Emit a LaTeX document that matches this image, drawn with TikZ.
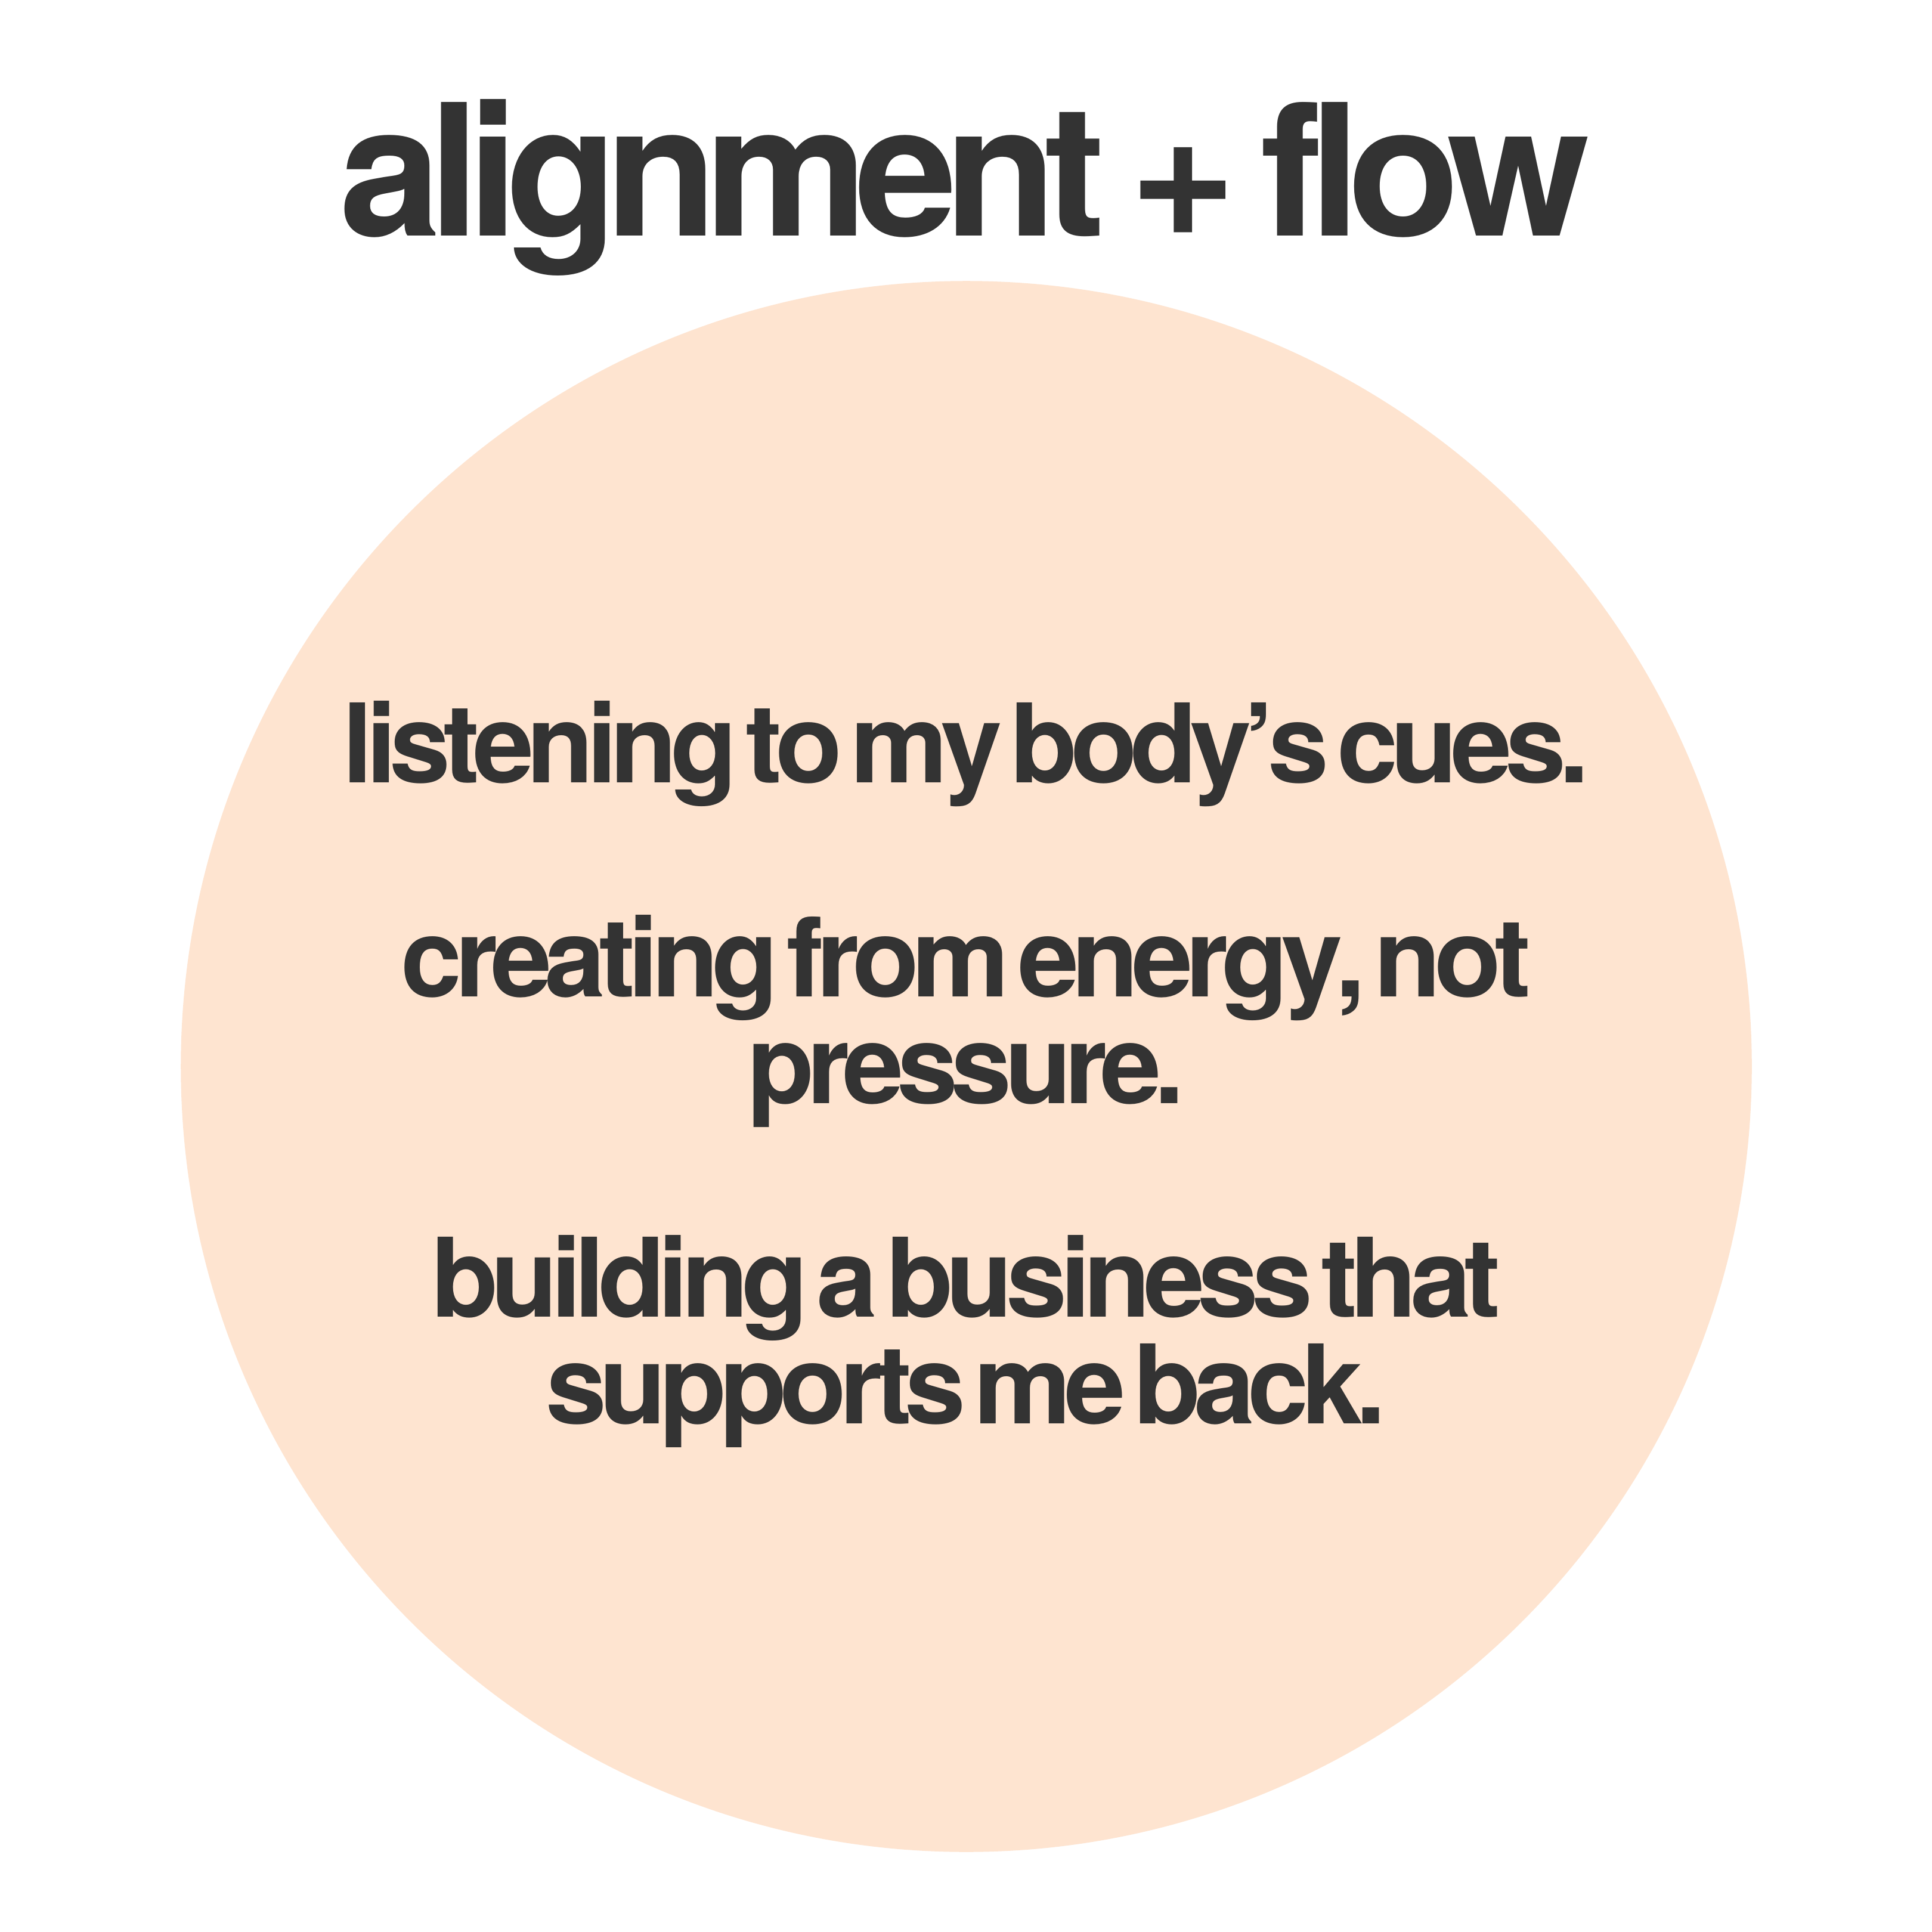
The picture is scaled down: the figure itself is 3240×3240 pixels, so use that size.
\documentclass[tikz,border=0pt]{standalone}
\usepackage{fontspec}
\setmainfont{TeX Gyre Heros}
\newfontfamily\heavyfont{TeX Gyre Heros}
\definecolor{ink}{HTML}{333333}
\definecolor{peach}{HTML}{FEE4D0}
\ExplSyntaxOn
\cs_new_protected:Npn \my_track_word:nn #1#2
  { \tl_map_inline:nn {#2} { ##1 \kern #1 \relax } }
\NewDocumentCommand \tracked { m m m }
  {
    \seq_set_split:Nnn \l_tmpa_seq { ~ } {#3}
    \seq_map_indexed_inline:Nn \l_tmpa_seq
      {
        \int_compare:nNnF {##1} = {1} { \hspace*{#2} }
        \my_track_word:nn {#1} {##2}
      }
    \kern -#1 \relax
  }
\ExplSyntaxOff
\newcommand\titleline[1]{\tracked{-0.068em}{0.20em}{#1}}
\newcommand\bodyline[1]{\tracked{-0.064em}{0.14em}{#1}}
\begin{document}
\begin{tikzpicture}[x=0.01cm,y=-0.01cm,
  titletext/.style={anchor=base,inner sep=0pt,text=ink,font=\heavyfont\bfseries\fontsize{87.4pt}{88pt}\selectfont},
  bodytext/.style={anchor=base,inner sep=0pt,text=ink,font=\heavyfont\bfseries\fontsize{52.3pt}{51pt}\selectfont}]
\useasboundingbox[fill=white] (0,0) rectangle (3240,3240);
\fill[peach] (1620.5,1788.5) circle[radius=13.165cm];
\node[titletext] (title) at (1618,396) {\titleline{alignment + flow}};
\node[bodytext] (l1) at (1620,1312) {\bodyline{listening to my body’s cues.}};
\node[bodytext] (l2) at (1620,1671) {\bodyline{creating from energy, not}};
\node[bodytext] (l3) at (1620,1850) {\bodyline{pressure.}};
\node[bodytext] (l4) at (1620,2208) {\bodyline{building a business that}};
\node[bodytext] (l5) at (1620,2387) {\bodyline{supports me back.}};
\end{tikzpicture}
\end{document}
